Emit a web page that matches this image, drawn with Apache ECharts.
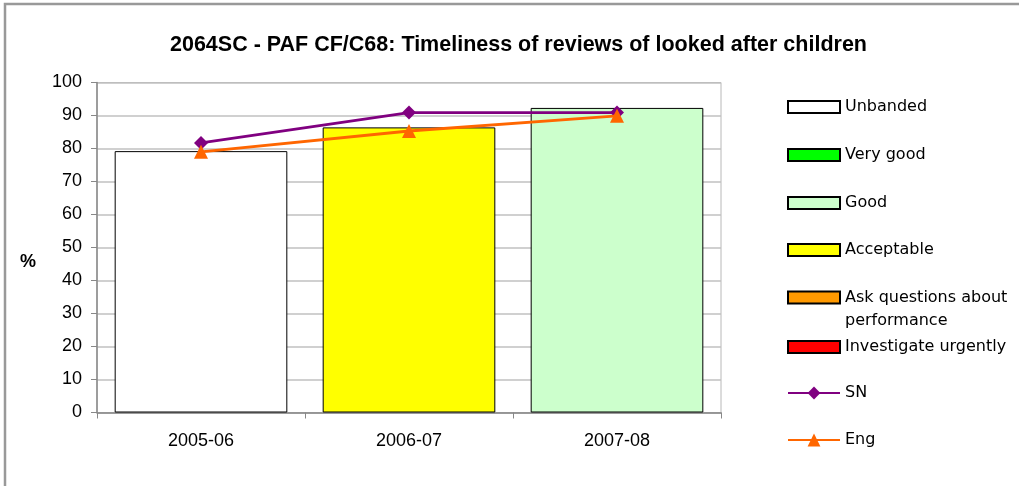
<!DOCTYPE html>
<html>
<head>
<meta charset="utf-8">
<script src="https://cdn.jsdelivr.net/npm/echarts@6/dist/echarts.min.js"></script>
<style>
  html, body { margin: 0; padding: 0; background: #fff; }
  #chart { width: 1019px; height: 486px; }
</style>
</head>
<body>
<div id="chart"></div>
<script>
var categories = ['2005-06', '2006-07', '2007-08'];
var barValues = [79.2, 86.4, 92.3];
var barBands = ['Unbanded', 'Acceptable', 'Good'];
var snValues = [81.7, 90.9, 90.9];
var engValues = [79.0, 85.3, 89.9];
var yTicks = [0, 10, 20, 30, 40, 50, 60, 70, 80, 90, 100];

var bandNames = ['Unbanded', 'Very good', 'Good', 'Acceptable', 'Ask questions about performance', 'Investigate urgently'];
var bandColors = ['#ffffff', '#00ff00', '#ccffcc', '#ffff00', '#ff9900', '#ff0000'];
var legendCenters = [106, 154, 202, 249, 297.5, 346, 393, 440];

var fontArial = 'Liberation Sans, Arial, sans-serif';
var fontLegend = 'DejaVu Sans, Verdana, sans-serif';

function bandSeries() {
    var out = [];
    for (var b = 0; b < bandNames.length; b++) {
        var data = [];
        for (var i = 0; i < categories.length; i++) {
            data.push(barBands[i] === bandNames[b] ? barValues[i] : '-');
        }
        out.push({
            name: bandNames[b],
            type: 'bar',
            stack: 'band',
            barCategoryGap: '17%',
            itemStyle: { color: bandColors[b], borderColor: '#000', borderWidth: 1 },
            emphasis: { disabled: true },
            data: data
        });
    }
    return out;
}

function legends() {
    var names = bandNames.concat(['SN', 'Eng']);
    var out = [];
    for (var k = 0; k < names.length; k++) {
        var isLine = names[k] === 'SN' || names[k] === 'Eng';
        var lg = {
            orient: 'vertical',
            left: 787,
            top: legendCenters[k] - 7,
            itemWidth: 52,
            itemHeight: isLine ? 16 : 12,
            itemGap: 0,
            padding: 0,
            selectedMode: false,
            textStyle: { fontFamily: fontLegend, fontSize: 16, color: '#000' },
            data: [isLine ? names[k] : { name: names[k], icon: 'rect' }]
        };
        if (isLine) {
            lg.top = legendCenters[k] - 8;
        }
        if (names[k] === 'Ask questions about performance') {
            // blank first line keeps the box level with the first text line
            lg.formatter = function() { return '\u00a0\nAsk questions about\nperformance'; };
            lg.textStyle.lineHeight = 23;
            lg.top = legendCenters[k] - 34.5;
        }
        out.push(lg);
    }
    return out;
}

var chart = echarts.init(document.getElementById('chart'));

var series = bandSeries();
series.push({
    name: 'SN',
    type: 'line',
    data: snValues,
    symbol: 'diamond',
    symbolSize: 14,
    lineStyle: { color: '#800080', width: 2.8 },
    itemStyle: { color: '#800080' },
    z: 3
});
series.push({
    name: 'Eng',
    type: 'line',
    data: engValues,
    symbol: 'triangle',
    symbolSize: 14,
    lineStyle: { color: '#ff6600', width: 2.8 },
    itemStyle: { color: '#ff6600' },
    z: 4
});

chart.setOption({
    animation: false,
    title: {
        text: '2064SC - PAF CF/C68: Timeliness of reviews of looked after children',
        left: 170,
        top: 34,
        padding: 0,
        textStyle: { fontFamily: fontArial, fontSize: 21.5, fontWeight: 'bold', color: '#000' }
    },
    graphic: [{
        type: 'rect',
        shape: { x: 5, y: 4, width: 1100, height: 600 },
        style: { fill: 'none', stroke: '#999', lineWidth: 2.5 },
        silent: true
    }],
    legend: legends(),
    grid: {
        left: 97,
        right: 298,
        top: 82.5,
        bottom: 73.5,
        show: true,
        borderColor: '#b8b8b8',
        borderWidth: 1,
        backgroundColor: 'transparent'
    },
    xAxis: {
        type: 'category',
        data: categories,
        axisLine: { lineStyle: { color: '#888', width: 1.5 } },
        axisTick: { show: true, length: 6, lineStyle: { color: '#888' } },
        axisLabel: { fontFamily: fontArial, fontSize: 18, color: '#000', margin: 20 }
    },
    yAxis: {
        type: 'value',
        min: yTicks[0],
        max: yTicks[yTicks.length - 1],
        interval: 10,
        name: '\n%',
        nameLocation: 'middle',
        nameRotate: 0,
        nameGap: 61,
        nameTextStyle: { fontFamily: fontArial, fontSize: 18, fontWeight: 'bold', color: '#000', lineHeight: 29 },
        axisLine: { show: true, lineStyle: { color: '#888', width: 1.5 } },
        axisTick: { show: true, length: 6, lineStyle: { color: '#888' } },
        axisLabel: { fontFamily: fontArial, fontSize: 18, color: '#000', margin: 15 },
        splitLine: { lineStyle: { color: '#c0c0c0', width: 1.5 } }
    },
    series: series
});
</script>
</body>
</html>
